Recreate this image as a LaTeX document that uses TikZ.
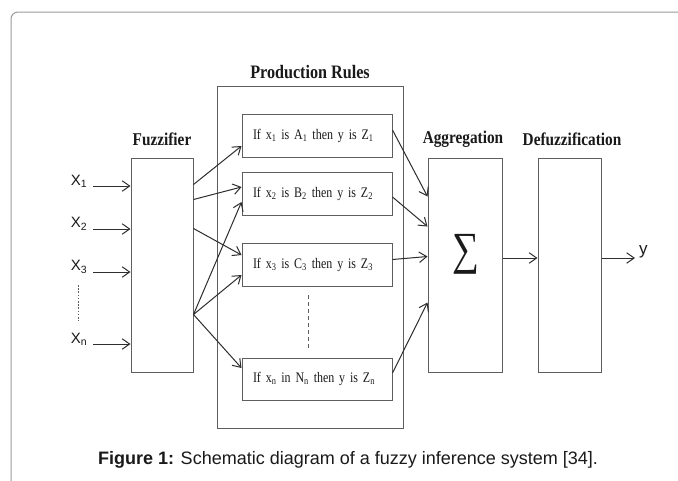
\documentclass[tikz,border=0pt]{standalone}
\usepackage{fontspec}
\setmainfont{Liberation Serif}
\newfontfamily\headfont[FakeStretch=0.85]{Liberation Serif}
\newfontfamily\rulefont[FakeStretch=0.82]{Liberation Serif}
\newfontfamily\sansf{Liberation Sans}
\usetikzlibrary{arrows.meta,calc}
\definecolor{boxgray}{HTML}{5E5E5E}
\definecolor{arrowgray}{HTML}{2E2E2E}
\definecolor{framegray}{HTML}{9A9A9A}
\definecolor{txt}{HTML}{1A1A1A}
\begin{document}
\begin{tikzpicture}[x=1pt,y=-1pt,
  box/.style={draw=boxgray, line width=1pt, inner sep=0pt, rectangle},
  head/.style={font=\headfont\bfseries\fontsize{18}{18}\selectfont, inner sep=0pt, text=txt},
  rulebox/.style={box, minimum width=150pt, minimum height=43pt, align=left, text width=128pt, font=\rulefont\fontsize{14.6}{17}\selectfont, text=txt},
  xlab/.style={font=\sansf\fontsize{15}{15}\selectfont, inner sep=0pt, text=txt},
  arr/.style={draw=arrowgray, line width=1pt, -{Straight Barb[length=7.5pt,width=10.5pt]}},
  dashline/.style={draw=boxgray, line width=0.8pt}]
\useasboundingbox (0,0) rectangle (678,480);
\fill[white] (0,0) rectangle (678,480);
% frame
\coordinate (fa) at (11,495);
\coordinate (fb) at (11,12);
\coordinate (fc) at (695,12);
\draw[framegray, line width=1pt, rounded corners=7pt] (fa) -- (fb) -- (fc);
% boxes
\node[box, minimum width=62pt, minimum height=214pt] (fuzz) at (162,265) {};
\node[box, minimum width=186pt, minimum height=342pt] (prod) at (310,257) {};
\node[rulebox] (r1) at (317,136) {If x\textsubscript{1} is A\textsubscript{1} then y is Z\textsubscript{1}};
\node[rulebox] (r2) at (317,193.5) {If x\textsubscript{2} is B\textsubscript{2} then y is Z\textsubscript{2}};
\node[rulebox] (r3) at (317,264.5) {If x\textsubscript{3} is C\textsubscript{3} then y is Z\textsubscript{3}};
\node[rulebox, minimum height=42pt] (rn) at (317,379) {If x\textsubscript{n} in N\textsubscript{n} then y is Z\textsubscript{n}};
\node[box, minimum width=74pt, minimum height=214pt] (agg) at (465,265) {};
\node[box, minimum width=63pt, minimum height=214pt] (def) at (569.5,265) {};
\node[font=\rulefont\fontsize{46}{46}\selectfont, inner sep=0pt, text=txt] (sig) at (466,254) {∑};
% headings
\node[head] (hf) at (162,139) {Fuzzifier};
\node[head, font=\headfont\bfseries\fontsize{19}{19}\selectfont] (hp) at (310,72) {Production Rules};
\node[head] (ha) at (463,139) {Aggregation};
\node[head] (hd) at (572,139) {Defuzzification};
% inputs
\node[xlab] (x1) at (79,181) {X\textsubscript{1}};
\node[xlab] (x2) at (79,224) {X\textsubscript{2}};
\node[xlab] (x3) at (79,267) {X\textsubscript{3}};
\node[xlab] (xn) at (79,339) {X\textsubscript{n}};
\coordinate (i1) at (93,186);
\coordinate (i2) at (93,229);
\coordinate (i3) at (93,272);
\coordinate (i4) at (93,344);
\draw[arr] (i1) -- (i1 -| fuzz.west);
\draw[arr] (i2) -- (i2 -| fuzz.west);
\draw[arr] (i3) -- (i3 -| fuzz.west);
\draw[arr] (i4) -- (i4 -| fuzz.west);
\coordinate (d1) at (78,285);
\coordinate (d2) at (78,321);
\draw[dashline, dash pattern=on 1.6pt off 1.6pt] (d1) -- (d2);
% fuzzifier to rules
\draw[arr] ($(fuzz.north east)+(0,27)$) -- ($(r1.west)+(0,10)$);
\draw[arr] ($(fuzz.north east)+(0,42)$) -- ($(r2.west)+(0,-6.5)$);
\draw[arr] ($(fuzz.north east)+(0,71)$) -- ($(r3.west)+(0,-9.5)$);
\draw[arr] ($(fuzz.north east)+(0,157)$) -- ($(r2.west)+(0,8.5)$);
\draw[arr] ($(fuzz.north east)+(0,157)$) -- ($(r3.west)+(0,10.5)$);
\draw[arr] ($(fuzz.north east)+(0,157)$) -- ($(rn.west)+(0,-11)$);
% dashed between rules
\coordinate (e1) at (308,295);
\coordinate (e2) at (308,349);
\draw[dashline, dash pattern=on 4pt off 3pt] (e1) -- (e2);
% rules to aggregation
\draw[arr] ($(r1.east)+(0,-6)$) -- ($(agg.north west)+(0,39)$);
\draw[arr] ($(r2.east)+(0,3.5)$) -- ($(agg.north west)+(0,69)$);
\draw[arr] ($(r3.east)+(0,-5)$) -- ($(agg.north west)+(0,99)$);
\draw[arr] ($(rn.east)+(0,-6)$) -- ($(agg.north west)+(0,145)$);
% aggregation to defuzz to output
\draw[arr] ($(agg.east)+(0,-7)$) -- ($(def.west)+(0,-7)$);
\coordinate (yo) at (635,258);
\draw[arr] ($(def.east)+(0,-7)$) -- (yo);
\node[xlab, font=\sansf\fontsize{17}{17}\selectfont, anchor=west] (ylab) at (639,252) {y};
% caption
\node[font=\sansf\fontsize{18}{18}\selectfont, inner sep=0pt, text=txt] (cap) at (348,460) {\textbf{Figure 1:} Schematic diagram of a fuzzy inference system [34].};
\end{tikzpicture}
\end{document}
